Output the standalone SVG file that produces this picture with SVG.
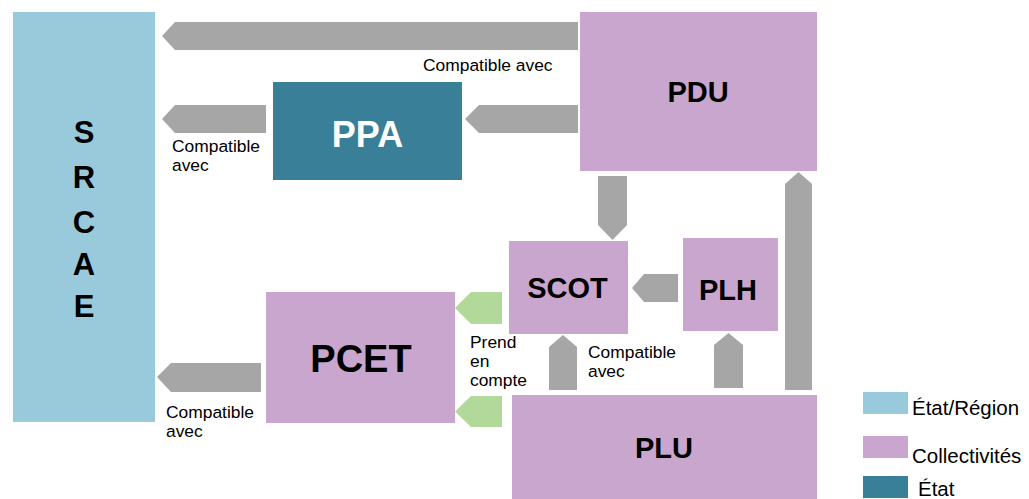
<svg xmlns="http://www.w3.org/2000/svg" width="1029" height="499" viewBox="0 0 1029 499">
<style>
.reg{fill:#99CADB}
.col{fill:#C9A6CE}
.eta{fill:#387F97}
.ar{fill:#A6A6A6}
.gr{fill:#B2D89A}
.big{font-family:"Liberation Sans",Arial,sans-serif;font-weight:bold;text-anchor:middle;fill:#000}
.lbl{font-family:"Liberation Sans",Arial,sans-serif;font-size:17.4px;fill:#000}
.leg{font-family:"Liberation Sans",Arial,sans-serif;font-size:20.5px;fill:#000}
</style>
<rect width="1029" height="499" fill="#fff"/>
<g id="connectors">
  <polygon class="ar" points="578,22 175,22 162,36 175,50 578,50"/>
  <polygon class="ar" points="266,105 175,105 162,119 175,133 266,133"/>
  <polygon class="ar" points="578,105 479,105 465,119 479,133 578,133"/>
  <polygon class="ar" points="598,176 627,176 627,225 612.5,240 598,225"/>
  <polygon class="ar" points="678,274 644,274 632,288 644,302 678,302"/>
  <polygon class="ar" points="549,390 549,347 563,335 577,347 577,390"/>
  <polygon class="ar" points="714,388 714,345 728.5,333 743,345 743,388"/>
  <polygon class="ar" points="785,390 785,184 798.5,172 812,184 812,390"/>
  <polygon class="ar" points="261,363 171,363 157,377 171,392 261,392"/>
  <polygon class="gr" points="502,292 471,292 455,308 471,324 502,324"/>
  <polygon class="gr" points="502,396 471,396 455,411.5 471,427 502,427"/>
  <text class="lbl" x="423" y="71">Compatible avec</text>
  <text class="lbl" x="172" y="152">Compatible</text>
  <text class="lbl" x="172" y="171">avec</text>
  <text class="lbl" x="470" y="348">Prend</text>
  <text class="lbl" x="470" y="367">en</text>
  <text class="lbl" x="470" y="386">compte</text>
  <text class="lbl" x="588" y="358">Compatible</text>
  <text class="lbl" x="588" y="377">avec</text>
  <text class="lbl" x="166" y="418">Compatible</text>
  <text class="lbl" x="166" y="437">avec</text>
</g>
<g id="SRCAE">
  <rect class="reg" x="13" y="12" width="142" height="410"/>
  <text class="big" x="84" y="143" font-size="31">S</text>
  <text class="big" x="84" y="188" font-size="31">R</text>
  <text class="big" x="84" y="233" font-size="31">C</text>
  <text class="big" x="84" y="275" font-size="31">A</text>
  <text class="big" x="84" y="317" font-size="31">E</text>
</g>
<g id="PDU">
  <rect class="col" x="580" y="12" width="237" height="159"/>
  <text class="big" x="698" y="102" font-size="29">PDU</text>
</g>
<g id="PPA">
  <rect class="eta" x="273" y="82" width="189" height="98"/>
  <text class="big" x="367.5" y="147" font-size="36" style="fill:#fff">PPA</text>
</g>
<g id="SCOT">
  <rect class="col" x="509" y="241" width="119" height="93"/>
  <text class="big" x="567.5" y="298" font-size="29">SCOT</text>
</g>
<g id="PLH">
  <rect class="col" x="683" y="238" width="95" height="93"/>
  <text class="big" x="728" y="300" font-size="29">PLH</text>
</g>
<g id="PCET">
  <rect class="col" x="266" y="292" width="189" height="131"/>
  <text class="big" x="361" y="372" font-size="38">PCET</text>
</g>
<g id="PLU">
  <rect class="col" x="512" y="395" width="305" height="104"/>
  <text class="big" x="664" y="458" font-size="29">PLU</text>
</g>
<g id="legend">
  <rect class="reg" x="863" y="392" width="45" height="22"/>
  <text class="leg" x="912" y="415">État/Région</text>
  <rect class="col" x="863" y="436" width="45" height="22"/>
  <text class="leg" x="912" y="463">Collectivités</text>
  <rect class="eta" x="863" y="476" width="45" height="22"/>
  <text class="leg" x="918" y="496">État</text>
</g>
</svg>
